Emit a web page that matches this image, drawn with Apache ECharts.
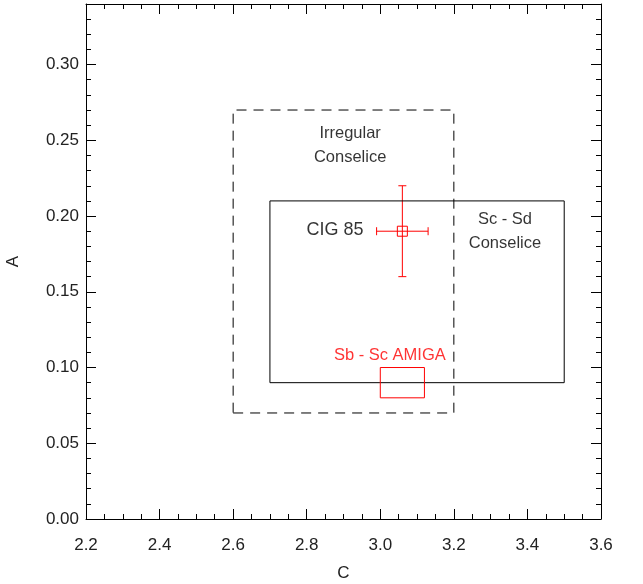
<!DOCTYPE html>
<html>
<head>
<meta charset="utf-8">
<script src="https://cdn.jsdelivr.net/npm/echarts@6/dist/echarts.min.js"></script>
<style>
  html, body { margin: 0; padding: 0; background: #fff; }
  #chart { width: 643px; height: 584px; }
</style>
</head>
<body>
<div id="chart"></div>
<script>
// region boxes: [xmin, xmax, ymin, ymax]
var irregularBox = [2.6, 3.2, 0.07, 0.27];
var scScBox = [2.7, 3.5, 0.09, 0.21];
var amigaBox = [3.0, 3.12, 0.08, 0.10];

// CIG 85 measurement with errors
var cigPoint = [3.06, 0.19];
var cigErrX = 0.07;
var cigErrY = 0.03;

var textLabels = [
    { pos: [2.918, 0.2545], text: 'Irregular', size: 16.5 },
    { pos: [2.918, 0.2387], text: 'Conselice', size: 16.5 },
    { pos: [3.339, 0.1978], text: 'Sc - Sd', size: 16.5 },
    { pos: [3.339, 0.1820], text: 'Conselice', size: 16.5 },
    { pos: [2.877, 0.1905], text: 'CIG 85', size: 18 }
];
var redLabel = { pos: [3.026, 0.108], text: 'Sb - Sc AMIGA' };

function boxPath(b) {
    return [[b[0], b[2]], [b[1], b[2]], [b[1], b[3]], [b[0], b[3]], [b[0], b[2]]];
}

var font = 'Liberation Sans, Arial, sans-serif';
var chart = echarts.init(document.getElementById('chart'));

function makeAxis(pos, isX, withLabels) {
    var ax = {
        type: 'value',
        position: pos,
        min: isX ? 2.2 : 0,
        max: isX ? 3.6 : 0.34,
        interval: isX ? 0.2 : 0.05,
        axisLine: { show: true, onZero: false, lineStyle: { color: '#000', width: 1 } },
        axisTick: { show: true, inside: true, length: 10, lineStyle: { color: '#000' } },
        minorTick: { show: true, splitNumber: isX ? 4 : 5, length: 5, lineStyle: { color: '#000' } },
        splitLine: { show: false },
        axisLabel: {
            show: withLabels, color: '#222', fontSize: 17, fontFamily: font,
            margin: isX ? 18 : 7,
            showMaxLabel: isX,
            formatter: function (v) { return isX ? v.toFixed(1) : v.toFixed(2); }
        }
    };
    if (withLabels) {
        ax.name = isX ? 'C' : 'A';
        ax.nameLocation = 'middle';
        ax.nameGap = isX ? 46 : 64;
        ax.nameTextStyle = { color: '#222', fontSize: 17, fontFamily: font };
    }
    return ax;
}

chart.setOption({
    animation: false,
    grid: { left: 86, right: 42, top: 4, bottom: 65, outerBoundsMode: 'none', containLabel: false },
    xAxis: [makeAxis('bottom', true, true), makeAxis('top', true, false)],
    yAxis: [makeAxis('left', false, true), makeAxis('right', false, false)],
    series: [
        {
            type: 'line', data: boxPath(irregularBox), symbol: 'none',
            lineStyle: { color: '#000', width: 1, type: [10, 7] }
        },
        {
            type: 'line', data: boxPath(scScBox), symbol: 'none',
            lineStyle: { color: '#000', width: 1 }
        },
        {
            type: 'line', data: boxPath(amigaBox), symbol: 'none',
            lineStyle: { color: '#f00', width: 1 }
        },
        {
            type: 'custom',
            renderItem: function (params, api) {
                var p = [api.value(0), api.value(1)];
                var c = api.coord(p);
                var l = api.coord([p[0] - cigErrX, p[1]]);
                var r = api.coord([p[0] + cigErrX, p[1]]);
                var t = api.coord([p[0], p[1] + cigErrY]);
                var b = api.coord([p[0], p[1] - cigErrY]);
                var cap = 4;
                var st = { stroke: '#f00', lineWidth: 1 };
                return {
                    type: 'group',
                    children: [
                        { type: 'line', shape: { x1: l[0], y1: l[1], x2: r[0], y2: r[1] }, style: st },
                        { type: 'line', shape: { x1: t[0], y1: t[1], x2: b[0], y2: b[1] }, style: st },
                        { type: 'line', shape: { x1: l[0], y1: l[1] - cap, x2: l[0], y2: l[1] + cap }, style: st },
                        { type: 'line', shape: { x1: r[0], y1: r[1] - cap, x2: r[0], y2: r[1] + cap }, style: st },
                        { type: 'line', shape: { x1: t[0] - cap, y1: t[1], x2: t[0] + cap, y2: t[1] }, style: st },
                        { type: 'line', shape: { x1: b[0] - cap, y1: b[1], x2: b[0] + cap, y2: b[1] }, style: st },
                        { type: 'rect', shape: { x: c[0] - 5, y: c[1] - 5, width: 10, height: 10 },
                          style: { stroke: '#f00', fill: 'none', lineWidth: 1 } }
                    ]
                };
            },
            data: [cigPoint]
        },
        {
            type: 'scatter', symbolSize: 0,
            data: textLabels.map(function (d) {
                return { value: d.pos, label: { formatter: d.text, fontSize: d.size } };
            }),
            label: {
                show: true, position: 'inside', color: '#000', fontFamily: font
            }
        },
        {
            type: 'scatter', symbolSize: 0,
            data: [{ value: redLabel.pos, label: { formatter: redLabel.text } }],
            label: {
                show: true, position: 'inside', color: '#f00',
                fontSize: 16.5, fontFamily: font
            }
        }
    ]
});
</script>
</body>
</html>
